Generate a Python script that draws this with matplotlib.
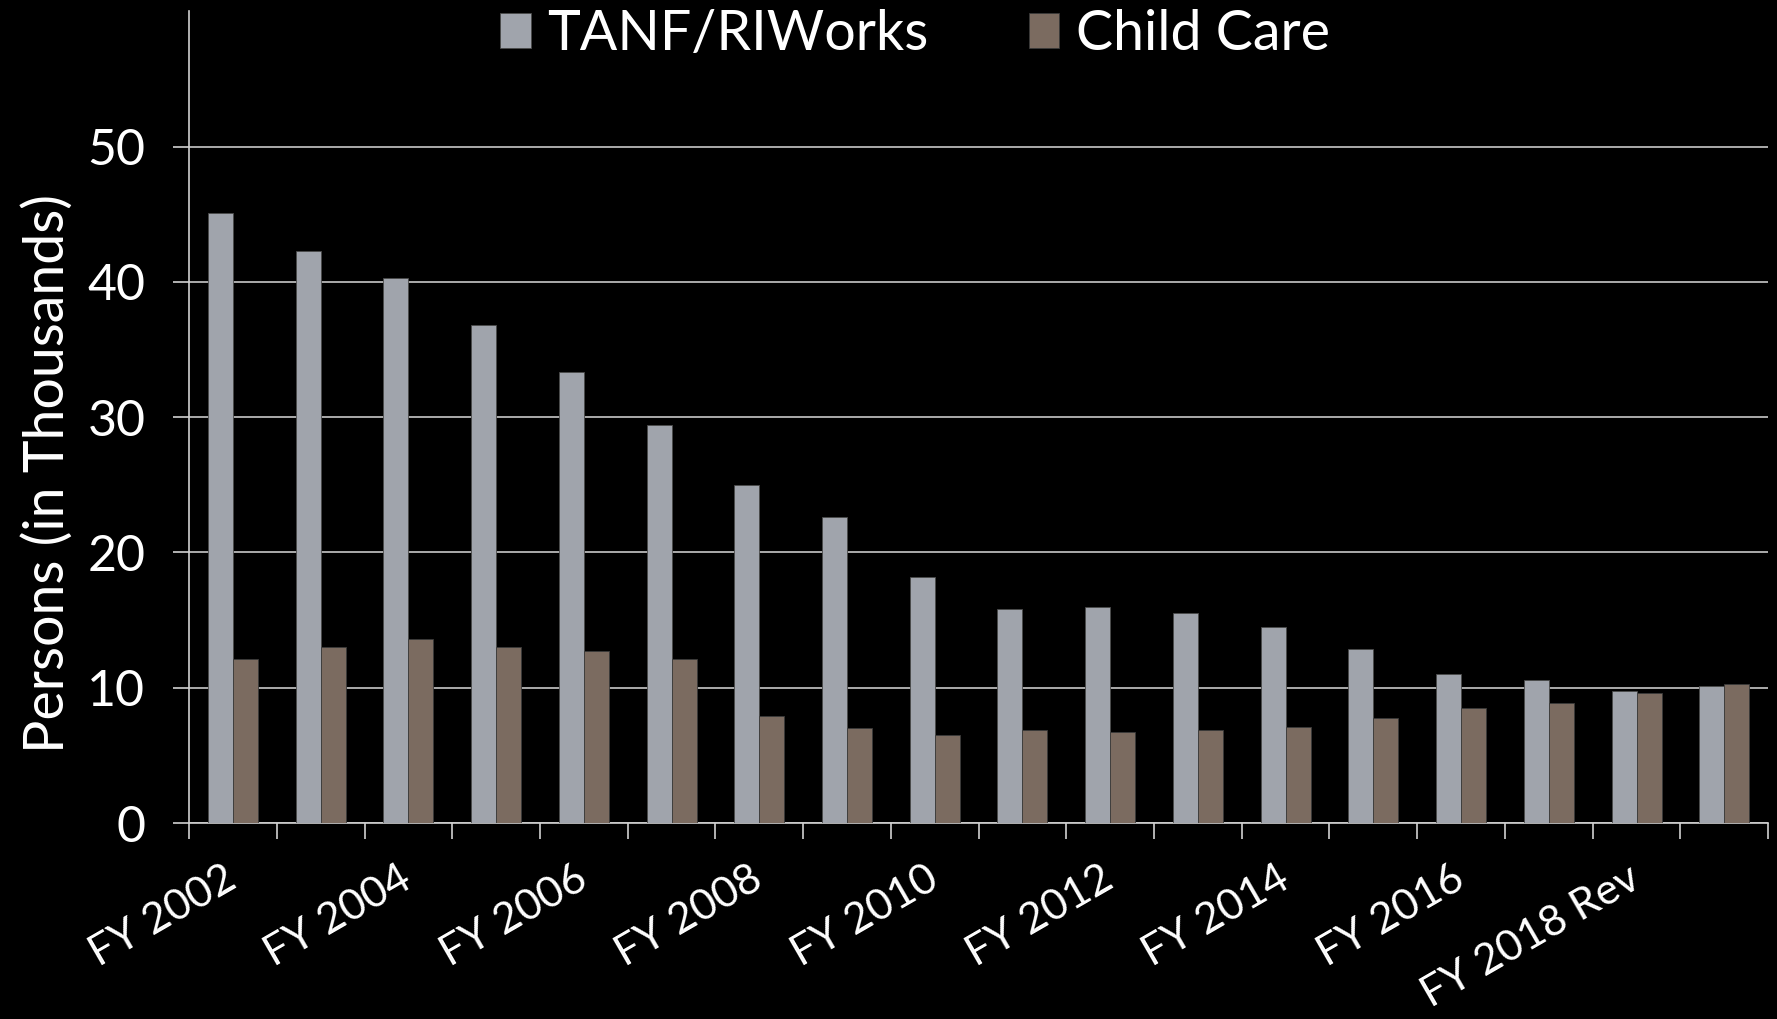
import matplotlib
matplotlib.use("Agg")
from matplotlib import pyplot as plt
import numpy as np

# persons, in thousands
years = ["FY 2002", "FY 2003", "FY 2004", "FY 2005", "FY 2006", "FY 2007",
         "FY 2008", "FY 2009", "FY 2010", "FY 2011", "FY 2012", "FY 2013",
         "FY 2014", "FY 2015", "FY 2016", "FY 2017", "FY 2018 Rev", "FY 2019 Gov"]
tanf = [45.1, 42.3, 40.3, 36.8, 33.3, 29.4, 25.0, 22.6, 18.2,
        15.8, 16.0, 15.5, 14.5, 12.9, 11.0, 10.6, 9.75, 10.15]
child_care = [12.1, 13.0, 13.6, 13.0, 12.7, 12.1, 7.9, 7.0, 6.5,
              6.9, 6.75, 6.9, 7.1, 7.8, 8.5, 8.85, 9.6, 10.3]
yticks = [0, 10, 20, 30, 40, 50]

plt.rcParams['font.family'] = ['Lato', 'DejaVu Sans']

fig = plt.figure(figsize=(17.77, 10.19), dpi=100, facecolor='black')
ax = fig.add_axes([0.1064, 0.1923, 0.8886, 0.7967])
ax.set_facecolor('black')

x = np.arange(len(years))
w = 0.285
ax.bar(x - w/2, tanf, w, color='#A0A4AC', edgecolor='#4a4a4a', linewidth=0.6,
       label='TANF/RIWorks', zorder=3)
ax.bar(x + w/2, child_care, w, color='#7B6B60', edgecolor='#3a3a3a', linewidth=0.6,
       label='Child Care', zorder=3)

ax.set_xlim(-0.5, len(years) - 0.5)
ax.set_ylim(0, 60)
ax.set_yticks(yticks)
ax.yaxis.grid(True, color='#C8C8C8', linewidth=1.2, zorder=0)
ax.set_axisbelow(True)

for s in ['top', 'right']:
    ax.spines[s].set_visible(False)
for s in ['left', 'bottom']:
    ax.spines[s].set_color('#D0D0D0')
    ax.spines[s].set_linewidth(1.2)

ax.tick_params(axis='y', colors='#D0D0D0', length=11.5, width=1.2, pad=20,
               labelsize=36, labelcolor='white')
ax.set_xticks(x[::2])
ax.set_xticklabels(years[::2], rotation=30, ha='right', va='center',
                   rotation_mode='anchor', color='white', fontsize=31)
ax.tick_params(axis='x', which='major', length=0, pad=38)
ax.set_xticks(np.arange(-0.5, len(years)), minor=True)
ax.tick_params(axis='x', which='minor', length=11.5, width=1.2, color='#D0D0D0')

ax.set_ylabel('Persons (in Thousands)', color='white', fontsize=40)
ax.yaxis.set_label_coords(-0.073, 0.431)

fig.legend(loc='upper center', bbox_to_anchor=(0.515, 1.04), ncol=2, frameon=False,
           fontsize=40, labelcolor='white', handlelength=0.55, handleheight=0.6,
           handletextpad=0.3, columnspacing=1.8)

fig.savefig('out.png', dpi=100, facecolor='black')
